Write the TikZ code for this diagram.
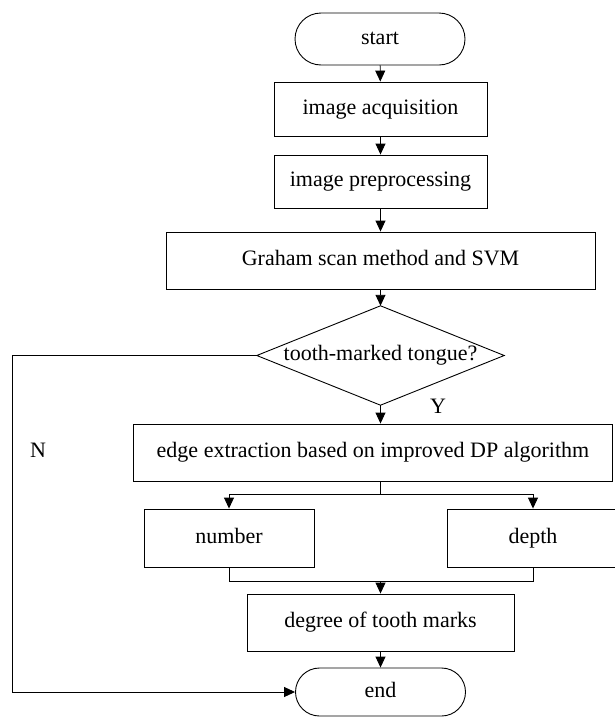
\documentclass[tikz,border=0pt]{standalone}
\usepackage{fontspec}
\setmainfont{Liberation Serif}
\usetikzlibrary{shapes.misc,arrows.meta}
\begin{document}
\begin{tikzpicture}[x=1pt,y=-1pt,
  every node/.style={font=\fontsize{22}{24}\selectfont, inner sep=0pt,
                     text height=15pt, text depth=5pt},
  box/.style={draw, line width=0.9pt, rectangle},
  term/.style={draw, line width=0.9pt, rounded rectangle,
               minimum width=170pt, minimum height=52pt},
  link/.style={line width=0.9pt, -{Triangle[length=11pt,width=10pt]}},
  wire/.style={line width=0.9pt}]

\useasboundingbox (0,0) rectangle (614,718);

% terminals and process boxes
\node[term] (start) at (380,39) {start};
\node[box, minimum width=213pt, minimum height=54pt] (acq)  at (380.5,109) {image acquisition};
\node[box, minimum width=213pt, minimum height=53pt] (prep) at (380.5,181.5) {image preprocessing};
\node[box, minimum width=429pt, minimum height=57pt] (svm)  at (380.5,260.5) {Graham scan method and SVM};

% decision: text node with the diamond outline drawn through its anchors
\node[minimum width=247pt, minimum height=99pt] (dia) at (380.5,355.5) {tooth-marked tongue?};
\draw[wire] (dia.north) -- (dia.east) -- (dia.south) -- (dia.west) -- cycle;

\node[box, minimum width=479pt, minimum height=57pt] (edge) at (373,452.5) {edge extraction based on improved DP algorithm};
\node[box, minimum width=170pt, minimum height=58pt] (num)   at (229,538) {number};
\node[box, minimum width=172pt, minimum height=58pt] (depth) at (533,538) {depth};
\node[box, minimum width=267pt, minimum height=57pt] (deg)   at (380.5,622.5) {degree of tooth marks};
\node[term, minimum height=48pt] (end) at (380.5,692) {end};

% branch labels
\node (lblY) at (438,408) {Y};
\node (lblN) at (38,452) {N};

% helper points for the split and join bars and the N loop
\coordinate (split) at (380,494);
\coordinate (join)  at (380.5,581);
\coordinate (loopx) at (12,0);

% main flow
\draw[link] (start) -- (acq);
\draw[link] (acq) -- (prep);
\draw[link] (prep) -- (svm);
\draw[link] (svm.south -| dia.north) -- (dia.north);
\draw[link] (dia.south) -- (edge.north -| dia.south);

% split to number / depth
\draw[wire] (edge.south -| split) -- (split);
\draw[link] (split) -| (num.north);
\draw[link] (split) -| (depth.north);

% join into degree
\draw[wire] (num.south) |- (join);
\draw[wire] (depth.south) |- (join);
\draw[link] (join) -- (deg.north -| join);
\draw[link] (deg) -- (end);

% N branch
\draw[link] (dia.west) -- (dia.west -| loopx) |- (end.west);
\end{tikzpicture}
\end{document}
